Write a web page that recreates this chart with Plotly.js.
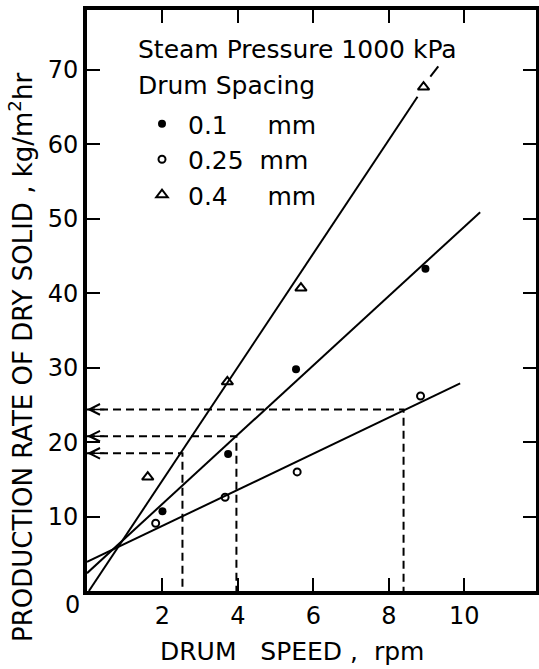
<!DOCTYPE html>
<html>
<head>
<meta charset="utf-8">
<script src="https://cdn.plot.ly/plotly-3.0.1.min.js"></script>
<style>html,body{margin:0;padding:0;background:#fff;}</style>
</head>
<body>
<div id="chart" style="width:539px;height:669px;"></div>
<script>
// ---- data ----
const speed01 = [2.0, 3.74, 5.54, 8.97];
const rate01  = [10.7, 18.4, 29.8, 43.3];
const speed025 = [1.82, 3.66, 5.57, 8.84];
const rate025  = [9.1, 12.6, 16.0, 26.2];
const speed04 = [1.61, 3.72, 5.67, 8.92];
const rate04  = [15.3, 28.1, 40.7, 67.7];

// fitted straight lines (end points)
const fitX01 = [0, 10.42],  fitY01 = [2.4, 50.9];
const fitX025 = [0, 9.89],  fitY025 = [3.9, 27.9];
const fitX04 = [0.05, 8.76], fitY04 = [0, 66.4];
const extX04 = [9.10, 9.31], extY04 = [69.1, 70.5];

// read-off guide lines
const readSpeeds = [2.53, 3.96, 8.39];
const readRates  = [18.5, 20.8, 24.4];

const xTickVals = [2, 4, 6, 8, 10];
const xTickText = ['2', '4', '6', '8', '10'];
const yTickVals = [10, 20, 30, 40, 50, 60, 70];
const yTickText = ['10', '20', '30', '40', '50', '60', '70'];

const legendNames = ['0.1\u00a0\u00a0\u00a0\u00a0\u00a0mm', '0.25\u00a0\u00a0mm', '0.4\u00a0\u00a0\u00a0\u00a0\u00a0mm'];
const headerLines = ['Steam Pressure 1000 kPa', 'Drum Spacing'];
const xTitle = 'DRUM\u00a0\u00a0 SPEED , \u00a0rpm';
const yTitle = 'PRODUCTION RATE OF DRY SOLID , kg/m<sup>2</sup>hr';

const FONT = 'DejaVu Sans, sans-serif';
const K = '#000';

const traces = [];
// fitted lines
[[fitX01, fitY01], [fitX025, fitY025], [fitX04, fitY04]].forEach(([x, y]) => {
  traces.push({x, y, mode: 'lines', line: {color: K, width: 2}, showlegend: false, hoverinfo: 'skip'});
});
traces.push({x: extX04, y: extY04, mode: 'lines', line: {color: K, width: 2}, showlegend: false, hoverinfo: 'skip'});
// guide lines
readSpeeds.forEach((s, i) => {
  traces.push({x: [0, s, s], y: [readRates[i], readRates[i], 0], mode: 'lines',
    line: {color: K, width: 2, dash: '8px,5px'}, showlegend: false, hoverinfo: 'skip'});
});
// data points
traces.push({x: speed01, y: rate01, mode: 'markers', name: legendNames[0], legendgroup: 'a',
  marker: {symbol: 'circle', size: 8, color: K}});
traces.push({x: speed025, y: rate025, mode: 'markers', name: legendNames[1], legendgroup: 'b',
  marker: {symbol: 'circle-open', size: 7, color: K, line: {width: 2, color: K}}});
traces.push({x: speed04, y: rate04, mode: 'markers', name: legendNames[2], legendgroup: 'c',
  marker: {symbol: 'triangle-up-open', size: 10, color: K, line: {width: 2, color: K}}});

const L = 87, R = 3, T = 10, B = 78, W = 539, H = 669;
const pw = W - L - R, ph = H - T - B;
const px = v => (v - L) / pw;
const py = v => (H - B - v) / ph;

const annotations = [];
readRates.forEach(r => {
  annotations.push({x: 0, y: r, xref: 'x', yref: 'y', axref: 'x', ayref: 'y', ax: 0.5, ay: r,
    text: '', showarrow: true, arrowhead: 5, arrowsize: 1.4, arrowwidth: 1.5, arrowcolor: K, standoff: 0});
});
headerLines.forEach((t, i) => {
  annotations.push({x: px(136), y: py(50 + 35 * i), xref: 'paper', yref: 'paper', text: t, showarrow: false,
    xanchor: 'left', yanchor: 'middle', font: {family: FONT, size: 25, color: K}});
});
// origin label
annotations.push({x: 0, y: 0, xref: 'x', yref: 'y', text: '0', showarrow: false,
  xanchor: 'right', yanchor: 'middle', xshift: -5, yshift: -14, font: {family: FONT, size: 24, color: K}});
// y axis title (placed as in the reference, lower than the plot centre)
annotations.push({x: px(21), y: py(358), xref: 'paper', yref: 'paper', text: yTitle, textangle: -90,
  showarrow: false, xanchor: 'center', yanchor: 'middle', font: {family: FONT, size: 26, color: K}});
// x axis title
annotations.push({x: px(292), y: py(651), xref: 'paper', yref: 'paper', text: xTitle,
  showarrow: false, xanchor: 'center', yanchor: 'middle', font: {family: FONT, size: 25, color: K}});

const layout = {
  width: W, height: H,
  margin: {l: L, r: R, t: T, b: B, pad: 0},
  paper_bgcolor: '#fff', plot_bgcolor: '#fff',
  font: {family: FONT, size: 24, color: K},
  showlegend: true,
  legend: {x: px(136), y: py(101), xanchor: 'left', yanchor: 'top',
    bgcolor: 'rgba(0,0,0,0)', font: {family: FONT, size: 25, color: K},
    traceorder: 'grouped', tracegroupgap: 0, itemwidth: 42},
  xaxis: {range: [0, 11.9], tickmode: 'array', tickvals: xTickVals, ticktext: xTickText,
    ticks: 'inside', ticklen: 13, tickwidth: 2, tickcolor: K,
    showline: true, linewidth: 4, linecolor: K, mirror: 'ticks', showgrid: false, zeroline: false,
    tickfont: {family: FONT, size: 24, color: K}},
  yaxis: {range: [0, 78.06], tickmode: 'array', tickvals: yTickVals, ticktext: yTickText,
    ticks: 'inside', ticklen: 13, tickwidth: 2, tickcolor: K,
    showline: true, linewidth: 4, linecolor: K, mirror: 'ticks', showgrid: false, zeroline: false,
    tickfont: {family: FONT, size: 24, color: K}},
  annotations: annotations
};

Plotly.newPlot('chart', traces, layout, {displayModeBar: false, staticPlot: true});
</script>
</body>
</html>
